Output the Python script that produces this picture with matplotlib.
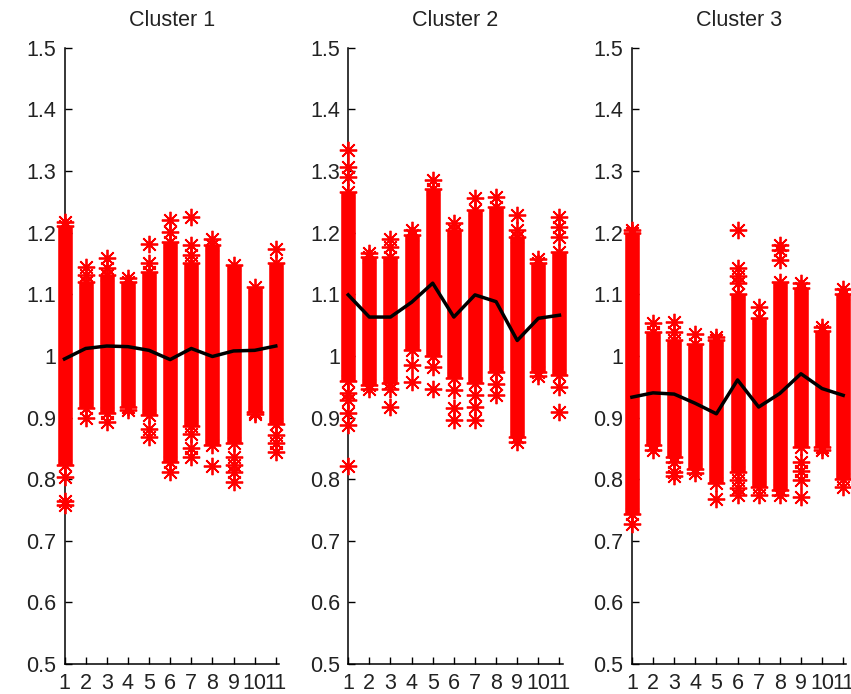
import numpy as np
import matplotlib.pyplot as plt

plt.rcParams['font.family'] = ['Liberation Sans', 'DejaVu Sans']

positions = list(range(1, 12))
xtick_labels = [str(p) for p in positions]
ytick_values = [0.5, 0.6, 0.7, 0.8, 0.9, 1.0, 1.1, 1.2, 1.3, 1.4, 1.5]
ytick_labels = ['0.5', '0.6', '0.7', '0.8', '0.9', '1', '1.1', '1.2', '1.3', '1.4', '1.5']
titles = ['Cluster 1', 'Cluster 2', 'Cluster 3']

# dense part of each column (bottom / top)
c1_low = [0.823, 0.915, 0.907, 0.917, 0.904, 0.828, 0.887, 0.855, 0.858, 0.909, 0.890]
c1_high = [1.210, 1.120, 1.131, 1.120, 1.136, 1.185, 1.150, 1.180, 1.147, 1.112, 1.150]
c1_points = [
    [1.218, 0.804, 0.765, 0.758],
    [1.145, 1.131, 0.900],
    [1.159, 1.142, 0.893],
    [1.126, 0.912],
    [1.182, 1.150, 0.882, 0.868],
    [1.220, 1.201, 0.812],
    [1.226, 1.180, 1.164, 0.874, 0.850, 0.836],
    [1.190, 0.821],
    [0.836, 0.823, 0.812, 0.795],
    [0.905],
    [1.174, 0.871, 0.858, 0.844],
]
c1_mean = [0.995, 1.012, 1.016, 1.015, 1.009, 0.994, 1.012, 0.999, 1.008, 1.009, 1.016]

c2_low = [0.960, 0.952, 0.956, 1.010, 1.000, 0.964, 0.956, 0.974, 0.868, 0.974, 0.969]
c2_high = [1.266, 1.160, 1.160, 1.196, 1.270, 1.204, 1.237, 1.242, 1.193, 1.150, 1.169]
c2_points = [
    [1.334, 1.307, 1.290, 0.939, 0.928, 0.907, 0.888, 0.822],
    [1.167, 0.947],
    [1.190, 1.177, 0.947, 0.917],
    [1.204, 0.985, 0.958],
    [1.285, 0.982, 0.947],
    [1.215, 0.944, 0.915, 0.896],
    [1.256, 0.936, 0.917, 0.896],
    [1.258, 0.955, 0.936],
    [1.228, 1.204, 0.860],
    [1.158, 0.967],
    [1.226, 1.209, 1.193, 0.950, 0.909],
]
c2_mean = [1.099, 1.063, 1.063, 1.087, 1.118, 1.063, 1.099, 1.088, 1.025, 1.061, 1.066]

c3_low = [0.744, 0.855, 0.836, 0.817, 0.793, 0.812, 0.787, 0.782, 0.852, 0.852, 0.801]
c3_high = [1.200, 1.039, 1.025, 1.020, 1.025, 1.101, 1.061, 1.120, 1.110, 1.040, 1.100]
c3_points = [
    [1.204, 0.728],
    [1.053, 0.847],
    [1.055, 1.039, 0.828, 0.812, 0.805],
    [1.036, 0.810],
    [1.031, 0.768],
    [1.204, 1.142, 1.130, 1.118, 0.798, 0.785, 0.774],
    [1.080, 0.774],
    [1.180, 1.172, 1.155, 0.774],
    [1.118, 0.828, 0.814, 0.798, 0.771],
    [1.047, 0.847],
    [1.109, 0.787],
]
c3_mean = [0.933, 0.940, 0.938, 0.923, 0.906, 0.961, 0.917, 0.939, 0.971, 0.947, 0.936]

lows = [c1_low, c2_low, c3_low]
highs = [c1_high, c2_high, c3_high]
points = [c1_points, c2_points, c3_points]
means = [c1_mean, c2_mean, c3_mean]

fig = plt.figure(figsize=(8.51, 6.94), dpi=100)
fig.patch.set_facecolor('white')

star = (8, 2, 0)  # matlab-like asterisk
fs = 15.5

for i in range(3):
    ax = fig.add_axes([(64.5 + 283.7 * i) / 851, 0.0432, 0.252, 0.888])

    ax.vlines(positions, lows[i], highs[i], colors='red', linewidth=10.5,
              capstyle='butt', zorder=3, clip_on=False)
    for p, pts, lo, hi in zip(positions, points[i], lows[i], highs[i]):
        ys = pts + [lo, hi]
        ax.plot([p] * len(ys), ys, linestyle='none', marker=star, ms=12.5,
                mew=1.3, color='red', zorder=3, clip_on=False)

    ax.plot(positions, means[i], color='black', lw=2.5, zorder=4, clip_on=False)

    ax.set_xlim(1, 11.15)
    ax.set_ylim(0.5, 1.5)
    ax.set_xticks(positions)
    ax.set_xticklabels(xtick_labels)
    ax.set_yticks(ytick_values)
    ax.set_yticklabels(ytick_labels)
    ax.spines['top'].set_visible(False)
    ax.spines['right'].set_visible(False)
    ax.spines['left'].set_linewidth(1.1)
    ax.spines['bottom'].set_linewidth(1.1)
    ax.tick_params(direction='in', length=5, width=1, labelsize=fs,
                   colors='black', labelcolor='#222222')
    ax.tick_params(axis='y', pad=6)
    ax.tick_params(axis='x', pad=6.5)
    ax.set_title(titles[i], fontsize=fs, pad=16, color='#222222')

fig.savefig('out.png', dpi=100, facecolor='white')
